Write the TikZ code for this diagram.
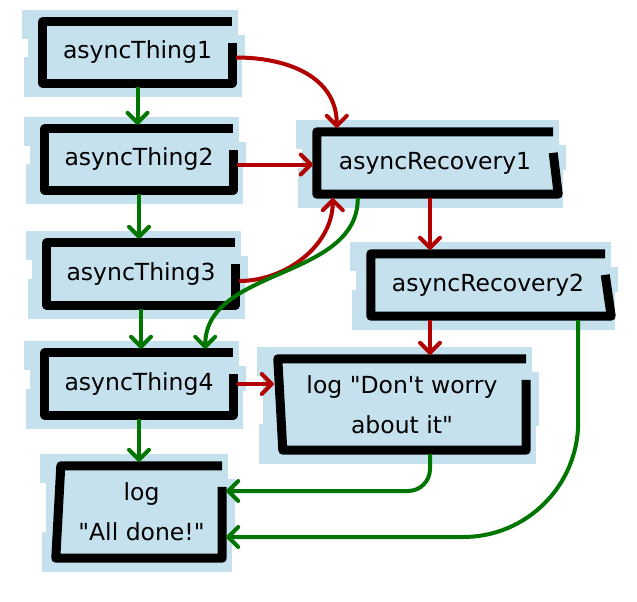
\documentclass[tikz,border=0pt]{standalone}
\usepackage{fontspec}
\newfontfamily\handfont{DejaVu Sans}
\usetikzlibrary{arrows.meta,calc,backgrounds}
\definecolor{bgblue}{RGB}{197,225,238}
\definecolor{redink}{RGB}{178,0,0}
\definecolor{greenink}{RGB}{0,118,0}
\tikzset{
  box/.style={inner sep=0pt, minimum width=#1, align=center, font=\handfont\fontsize{23.5}{40}\selectfont},
  inkline/.style={line width=9pt, line join=round, line cap=butt, black},
  conn/.style={line width=4pt, -{Straight Barb[round,length=10pt,width=20pt]}, shorten >=4pt, shorten <=4pt},
  redarrow/.style={conn, redink},
  greenarrow/.style={conn, greenink},
}
\newcommand\paperbg[1]{%
  \fill[bgblue] ([xshift=-21pt,yshift=12pt]#1.north west) rectangle ([xshift=6pt,yshift=-17pt]#1.north east);
  \fill[bgblue] ([xshift=-15pt,yshift=-13pt]#1.north west) rectangle ([xshift=13pt,yshift=24pt]#1.south east);
  \fill[bgblue] ([xshift=-19pt,yshift=26pt]#1.south west) rectangle ([xshift=10pt,yshift=-14pt]#1.south east);
}
\newcommand\inkbox[3]{%
  \draw[inkline] (#1.north east) -- (#1.north west) -- ([xshift=#2]#1.south west)
    -- ([xshift=#3]#1.south east) -- ([yshift=-21pt]#1.north east);
}
\begin{document}
\begin{tikzpicture}[x=1pt,y=1pt]
\useasboundingbox (0,0) rectangle (637,-602);
% nodes
\node[box=189pt, minimum height=61pt] (t1) at (137.5,-52.5) {asyncThing1};
\node[box=188pt, minimum height=61pt] (t2) at (139,-159.5) {asyncThing2};
\node[box=188pt, minimum height=62pt] (t3) at (141,-274) {asyncThing3};
\node[box=188pt, minimum height=62pt] (t4) at (139,-384) {asyncThing4};
\node[box=161pt, minimum height=92pt] (la) at (141.5,-512) {log\\"All done!"};
\node[box=236pt, minimum height=62pt] (r1) at (435,-163) {asyncRecovery1};
\node[box=234pt, minimum height=62pt] (r2) at (488,-285) {asyncRecovery2};
\node[box=248pt, minimum height=91pt] (ld) at (402,-404.5) {log "Don't worry\\about it"};
% backgrounds
\begin{scope}[on background layer]
\foreach \n in {t1,t2,t3,t4,la,r1,r2,ld} {\paperbg{\n}}
\end{scope}
% outlines
\inkbox{t1}{0pt}{0pt}
\inkbox{t2}{0pt}{0pt}
\inkbox{t3}{0pt}{0pt}
\inkbox{t4}{0pt}{0pt}
\inkbox{la}{-5pt}{0pt}
\inkbox{r1}{0pt}{5pt}
\inkbox{r2}{0pt}{6pt}
\inkbox{ld}{5pt}{0pt}
% green chain
\draw[greenarrow] (t1.south) -- (t1.south |- t2.north);
\draw[greenarrow] (t2.south) -- (t2.south |- t3.north);
\draw[greenarrow] (t3.south) -- (t3.south |- t4.north);
\draw[greenarrow] (t4.south) -- (t4.south |- la.north);
% red to recovery1
\draw[redarrow] ([yshift=-5pt]t1.east) to[out=0,in=90,looseness=1.1] ([xshift=20pt]r1.north west);
\draw[redarrow] ([yshift=-5pt]t2.east) -- ([yshift=-5pt]t2.east -| r1.west);
\draw[redarrow] ([yshift=-7pt]t3.east) to[out=0,in=-90] ([xshift=16pt]r1.south west);
% green recovery1 -> t4
\draw[greenarrow] ([xshift=41pt]r1.south west) to[out=-90,in=90] ([xshift=-28pt]t4.north east);
% red recovery chain
\draw[redarrow] ([xshift=-5pt]r1.south) -- ([xshift=-5pt]r1.south |- r2.north);
\draw[redarrow] ([xshift=-58pt]r2.south) -- ([xshift=-58pt]r2.south |- ld.north);
\draw[redarrow] (t4.east) -- (t4.east -| ld.west);
% green to log all done
\draw[greenarrow, rounded corners=22pt] ([xshift=28pt]ld.south) |- ([yshift=21pt]la.east);
\draw[greenarrow, rounded corners=115pt] ([xshift=-27pt]r2.south east) |- ([yshift=-25pt]la.east);
\end{tikzpicture}
\end{document}
